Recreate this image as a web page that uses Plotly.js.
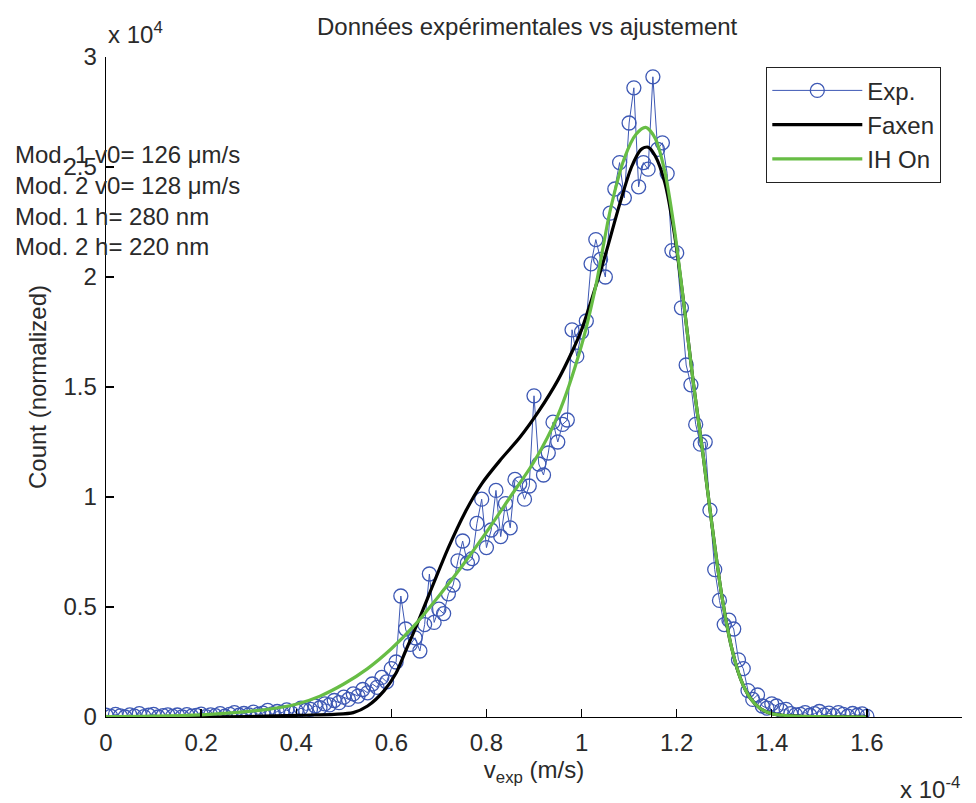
<!DOCTYPE html>
<html>
<head>
<meta charset="utf-8">
<script src="https://cdn.plot.ly/plotly-3.0.1.min.js"></script>
<style>html,body{margin:0;padding:0;background:#fff;}#chart{width:976px;height:803px;}</style>
</head>
<body>
<div id="chart"></div>
<script>
// v_exp in units of 1e-4 m/s, counts in units of 1e4
const vexp = [0.00,0.01,0.02,0.03,0.04,0.05,0.06,0.07,0.08,0.09,
0.10,0.11,0.12,0.13,0.14,0.15,0.16,0.17,0.18,0.19,
0.20,0.21,0.22,0.23,0.24,0.25,0.26,0.27,0.28,0.29,
0.30,0.31,0.32,0.33,0.34,0.35,0.36,0.37,0.38,0.39,
0.40,0.41,0.42,0.43,0.44,0.45,0.46,0.47,0.48,0.49,
0.50,0.51,0.52,0.53,0.54,0.55,0.56,0.57,0.58,0.59,
0.60,0.61,0.62,0.63,0.64,0.65,0.66,0.67,0.68,0.69,
0.70,0.71,0.72,0.73,0.74,0.75,0.76,0.77,0.78,0.79,
0.80,0.81,0.82,0.83,0.84,0.85,0.86,0.87,0.88,0.89,
0.90,0.91,0.92,0.93,0.94,0.95,0.96,0.97,0.98,0.99,
1.00,1.01,1.02,1.03,1.04,1.05,1.06,1.07,1.08,1.09,
1.10,1.11,1.12,1.13,1.14,1.15,1.16,1.17,1.18,1.19,
1.20,1.21,1.22,1.23,1.24,1.25,1.26,1.27,1.28,1.29,
1.30,1.31,1.32,1.33,1.34,1.35,1.36,1.37,1.38,1.39,
1.40,1.41,1.42,1.43,1.44,1.45,1.46,1.47,1.48,1.49,
1.50,1.51,1.52,1.53,1.54,1.55,1.56,1.57,1.58,1.59,1.60];
const countExp = [0.008,0.003,0.012,0.005,0.000,0.010,0.004,0.015,0.002,0.008,
0.012,0.000,0.006,0.010,0.003,0.009,0.001,0.011,0.004,0.007,
0.013,0.002,0.010,0.006,0.015,0.004,0.012,0.020,0.008,0.016,
0.010,0.022,0.012,0.018,0.030,0.014,0.025,0.020,0.032,0.018,
0.028,0.040,0.030,0.035,0.050,0.042,0.060,0.055,0.075,0.065,
0.090,0.080,0.105,0.095,0.125,0.110,0.150,0.135,0.180,0.160,
0.220,0.250,0.550,0.400,0.330,0.360,0.300,0.420,0.650,0.430,
0.490,0.470,0.560,0.600,0.710,0.800,0.700,0.720,0.880,0.990,
0.770,0.850,1.030,0.820,0.970,0.860,1.080,1.060,0.990,1.050,
1.460,1.150,1.100,1.200,1.340,1.250,1.330,1.350,1.760,1.640,
1.750,1.800,2.060,2.170,2.080,2.000,2.290,2.400,2.520,2.360,
2.700,2.860,2.410,2.520,2.490,2.910,2.580,2.610,2.470,2.120,
2.110,1.860,1.600,1.510,1.330,1.240,1.250,0.940,0.670,0.530,
0.420,0.440,0.400,0.260,0.220,0.120,0.080,0.100,0.050,0.040,
0.060,0.050,0.030,0.035,0.015,0.010,0.012,0.020,0.008,0.015,
0.025,0.010,0.018,0.006,0.020,0.012,0.004,0.016,0.008,0.014,0.003];

const vFaxen = [0,0.2,0.3,0.41,0.48,0.52,0.55,0.585,0.61,0.63,0.65,0.68,0.72,0.755,0.79,0.83,0.87,0.91,0.95,0.98,1.00,1.02,1.05,1.08,1.105,1.125,1.14,1.155,1.175,1.195,1.215,1.235,1.255,1.275,1.295,1.315,1.335,1.355,1.375,1.40,1.45,1.52,1.60];
const countFaxen = [0,0,0.002,0.008,0.012,0.02,0.05,0.12,0.2,0.3,0.4,0.56,0.77,0.93,1.06,1.17,1.27,1.39,1.53,1.66,1.76,1.89,2.10,2.33,2.50,2.58,2.59,2.55,2.43,2.20,1.88,1.52,1.20,0.86,0.55,0.32,0.17,0.085,0.04,0.015,0.004,0.001,0];

const vIH = [0,0.1,0.2,0.27,0.34,0.40,0.45,0.50,0.55,0.60,0.65,0.70,0.75,0.80,0.85,0.90,0.95,1.00,1.03,1.06,1.09,1.115,1.135,1.155,1.175,1.195,1.215,1.235,1.255,1.275,1.295,1.315,1.335,1.355,1.375,1.40,1.45,1.52,1.60];
const countIH = [0.002,0.004,0.01,0.02,0.035,0.058,0.095,0.15,0.22,0.31,0.42,0.55,0.69,0.84,1.00,1.16,1.37,1.69,1.96,2.30,2.54,2.65,2.68,2.63,2.48,2.22,1.88,1.52,1.20,0.86,0.55,0.32,0.17,0.085,0.04,0.015,0.004,0.001,0];

const seriesNames = ["Exp.","Faxen","IH On"];
const xTicks = [0,0.2,0.4,0.6,0.8,1,1.2,1.4,1.6,1.8];
const yTicks = [0,0.5,1,1.5,2,2.5,3];
const infoLines = ["Mod. 1 v0= 126 μm/s","Mod. 2 v0= 128 μm/s","Mod. 1 h= 280 nm","Mod. 2 h= 220 nm"];

const FONT = "Liberation Sans, Arial, sans-serif";
const TXT = "#2a2a2a";

const traces = [
  {x: vexp, y: countExp, name: seriesNames[0], type: "scatter", mode: "lines+markers",
   line: {color: "#3d58b4", width: 1},
   marker: {symbol: "circle-open", size: 14, color: "#3d58b4", line: {width: 1.3, color: "#3d58b4"}}},
  {x: vFaxen, y: countFaxen, name: seriesNames[1], type: "scatter", mode: "lines",
   line: {color: "#000000", width: 3.2, shape: "spline", smoothing: 0.8}},
  {x: vIH, y: countIH, name: seriesNames[2], type: "scatter", mode: "lines",
   line: {color: "#67bd45", width: 3.2, shape: "spline", smoothing: 0.8}}
];

const infoY = [155,185,216,246];
const annotations = infoLines.map((t,i) => ({
  text: t, xref: "paper", yref: "paper", x: (13-106)/856, y: (717-infoY[i])/660,
  xanchor: "left", yanchor: "middle", showarrow: false, font: {family: FONT, size: 24, color: TXT}
}));
annotations.push({text: "x 10<sup>4</sup>", xref: "paper", yref: "paper", x: (106-106)/856, y: (717-33)/660,
  xanchor: "left", yanchor: "middle", showarrow: false, font: {family: FONT, size: 24, color: TXT}});
annotations.push({text: "x 10<sup>-4</sup>", xref: "paper", yref: "paper", x: (962-106)/856, y: (717-788)/660,
  xanchor: "right", yanchor: "middle", showarrow: false, font: {family: FONT, size: 24, color: TXT}});

const layout = {
  width: 976, height: 803,
  margin: {l: 106, r: 14, t: 57, b: 86},
  paper_bgcolor: "#ffffff", plot_bgcolor: "#ffffff",
  font: {family: FONT, size: 24, color: TXT},
  title: {text: "Données expérimentales vs ajustement", font: {family: FONT, size: 24, color: TXT},
          xref: "paper", x: 0.492, xanchor: "center", yref: "container", y: 1-27/803, yanchor: "middle"},
  showlegend: true,
  legend: {x: (941-106)/856, y: (717-67)/660, xanchor: "right", yanchor: "top",
           bgcolor: "#ffffff", bordercolor: "#222", borderwidth: 1.3,
           font: {family: FONT, size: 24, color: TXT}, itemwidth: 90},
  xaxis: {range: [0,1.8], tickvals: xTicks, ticktext: xTicks.map(String), showgrid: false, zeroline: false,
          showline: true, linecolor: "#000", linewidth: 1.3, ticks: "inside", ticklen: 8, tickcolor: "#000", tickwidth: 1.3,
          tickfont: {family: FONT, size: 24, color: TXT}, mirror: false, ticklabelstandoff: 4,
          title: {text: "v<sub>exp</sub> (m/s)", font: {family: FONT, size: 24, color: TXT}, standoff: 6}},
  yaxis: {range: [0,3], tickvals: yTicks, ticktext: yTicks.map(String), showgrid: false, zeroline: false,
          showline: true, linecolor: "#000", linewidth: 1.3, ticks: "inside", ticklen: 8, tickcolor: "#000", tickwidth: 1.3,
          tickfont: {family: FONT, size: 24, color: TXT}, mirror: false, ticklabelstandoff: 3,
          title: {text: "Count (normalized)", font: {family: FONT, size: 24, color: TXT}, standoff: 10}},
  annotations: annotations
};

Plotly.newPlot("chart", traces, layout, {displayModeBar: false, staticPlot: true});
</script>
</body>
</html>
